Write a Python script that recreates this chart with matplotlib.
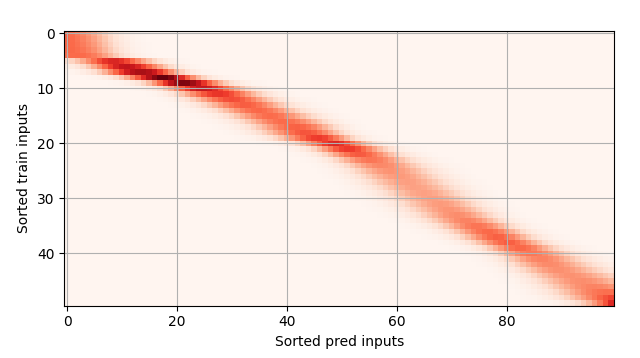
import matplotlib
matplotlib.use("Agg")
import matplotlib.pyplot as plt
import numpy as np

# sorted training inputs (pred-input units)
x_train = np.array([
    0.000, 0.015, 0.030, 0.050, 0.090, 0.380, 0.510, 0.640, 0.860, 1.110,
    1.300, 1.440, 1.550, 1.655, 1.760, 1.860, 1.960, 2.050, 2.120, 2.240,
    2.440, 2.610, 2.730, 2.840, 2.930, 3.000, 3.060, 3.120, 3.180, 3.240,
    3.300, 3.365, 3.430, 3.500, 3.585, 3.690, 3.800, 3.900, 4.020, 4.150,
    4.270, 4.360, 4.430, 4.500, 4.580, 4.640, 4.700, 4.760, 4.830, 4.970,
])
# prediction inputs
x_pred = np.arange(0, 5, 0.05)
kernel_w = 4.5

# Nadaraya-Watson attention weights: one row per train point, one column per query
diff = x_pred[None, :] - x_train[:, None]
scores = -0.5 * (diff * kernel_w) ** 2
weights = np.exp(scores - scores.max(axis=0, keepdims=True))
weights = weights / weights.sum(axis=0, keepdims=True)

fig = plt.figure(figsize=(6.4, 3.58), dpi=100)
ax = fig.add_axes([64.25 / 640, 1 - 305.55 / 358, 550 / 640, 275 / 358])
ax.imshow(weights, cmap="Reds", aspect="auto", interpolation="nearest")
ax.grid(True)
ax.set_xlabel("Sorted pred inputs")
ax.set_ylabel("Sorted train inputs")
fig.savefig("out.png", dpi=100)
